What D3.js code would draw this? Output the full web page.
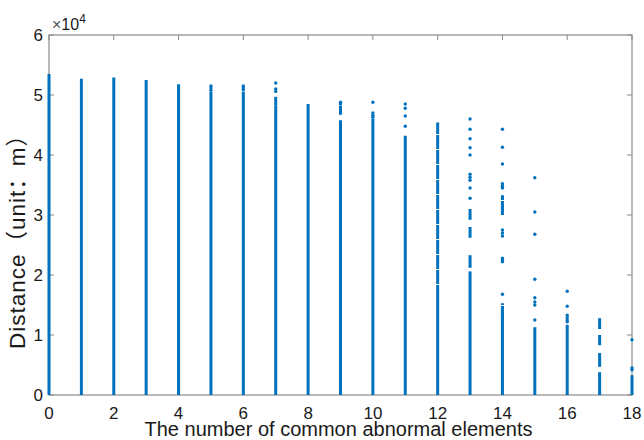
<!DOCTYPE html>
<html lang="en">
<head>
<meta charset="utf-8">
<title>Distance vs common abnormal elements</title>
<script src="https://cdn.jsdelivr.net/npm/d3@7"></script>
<style>
  body { margin: 0; background: #fff; }
  svg text { font-family: "Liberation Sans", Arial, sans-serif; fill: #1a1a1a; }
  .cjk { font-family: "Noto Sans CJK SC", sans-serif; }
</style>
</head>
<body>
<script>
// number of common abnormal elements (x positions of the columns)
var counts = [0, 1, 2, 3, 4, 5, 6, 7, 8, 9, 10, 11, 12, 13, 14, 15, 16, 17, 18];
// top of the solid part of each column (m)
var solidTop = [53500, 52700, 52900, 52500, 51800, 50500, 50600, 48300, 48500, 45800,
                46000, 43200, 16000, 20600, 13800, 11300, 11700, 3800, 3300];
// dense but broken stretches: [count, from, to]
var denseRanges = [
  [12, 16000, 45400], [13, 29200, 31000], [13, 26200, 28000],
  [13, 21200, 23300], [14, 30000, 33300], [14, 12500, 15300], [17, 11000, 12800],
  [17, 8300, 10000], [17, 4700, 7000], [7, 48300, 49700], [9, 46700, 48200]
];
// single points above the columns: [count, distance]
var points = [
  [5, 51500], [5, 51200], [5, 50800],
  [6, 51500], [6, 51200], [6, 50900],
  [7, 52000], [7, 51000], [7, 50600],
  [9, 48800], [9, 48500],
  [10, 48800], [10, 47000], [10, 46600], [10, 46300],
  [11, 48500], [11, 47800], [11, 46500], [11, 44800],
  [13, 46000], [13, 44300], [13, 42700], [13, 41200], [13, 40000], [13, 36800],
  [13, 36300], [13, 35800], [13, 34500], [13, 32800],
  [14, 44300], [14, 41300], [14, 38500], [14, 35200], [14, 34800], [14, 34500],
  [14, 27500], [14, 27000], [14, 26500], [14, 22800], [14, 22500], [14, 22200], [14, 16800],
  [15, 36200], [15, 30500], [15, 26800], [15, 19300], [15, 16200], [15, 15500],
  [15, 15000], [15, 12500],
  [16, 17300], [16, 14800], [16, 13300], [16, 12900], [16, 12500], [16, 12200],
  [18, 9200], [18, 4500], [18, 4200]
];
var xTicks = [0, 2, 4, 6, 8, 10, 12, 14, 16, 18];
var yTicks = [0, 10000, 20000, 30000, 40000, 50000, 60000];

var w = 644, h = 440;
var pLeft = 49, pRight = 632, pTop = 35, pBottom = 395;
var blue = "#0072BD", axisCol = "#8a8a8a";

var svg = d3.select("body").append("svg")
    .attr("width", w)
    .attr("height", h);

var x = d3.scaleLinear().domain([0, 18]).range([pLeft, pRight]);
var y = d3.scaleLinear().domain([0, 60000]).range([pBottom, pTop]);

// box
svg.append("rect")
    .attr("x", pLeft).attr("y", pTop)
    .attr("width", pRight - pLeft).attr("height", pBottom - pTop)
    .attr("fill", "none").attr("stroke", axisCol).attr("stroke-width", 1.2);

// ticks (inward) on all four sides
var tl = 5;
svg.selectAll(".xt").data(xTicks).enter().append("line")
    .attr("x1", function(d) { return x(d); }).attr("x2", function(d) { return x(d); })
    .attr("y1", pBottom).attr("y2", pBottom - tl)
    .attr("stroke", axisCol);
svg.selectAll(".xt2").data(xTicks).enter().append("line")
    .attr("x1", function(d) { return x(d); }).attr("x2", function(d) { return x(d); })
    .attr("y1", pTop).attr("y2", pTop + tl)
    .attr("stroke", axisCol);
svg.selectAll(".yt").data(yTicks).enter().append("line")
    .attr("x1", pLeft).attr("x2", pLeft + tl)
    .attr("y1", function(d) { return y(d); }).attr("y2", function(d) { return y(d); })
    .attr("stroke", axisCol);
svg.selectAll(".yt2").data(yTicks).enter().append("line")
    .attr("x1", pRight).attr("x2", pRight - tl)
    .attr("y1", function(d) { return y(d); }).attr("y2", function(d) { return y(d); })
    .attr("stroke", axisCol);

// tick labels
svg.selectAll(".xl").data(xTicks).enter().append("text")
    .attr("x", function(d) { return x(d); })
    .attr("y", pBottom + 24)
    .attr("text-anchor", "middle")
    .attr("font-size", 17)
    .text(function(d) { return d; });
svg.selectAll(".yl").data(yTicks).enter().append("text")
    .attr("x", pLeft - 6)
    .attr("y", function(d) { return y(d) + 6; })
    .attr("text-anchor", "end")
    .attr("font-size", 17)
    .text(function(d) { return d / 10000; });

// exponent
var ex = svg.append("text").attr("x", pLeft + 3).attr("y", pTop - 5).attr("font-size", 16);
ex.append("tspan").attr("fill", "#555").text("\u00d7");
ex.append("tspan").text("10");
ex.append("tspan").attr("dy", -7).attr("font-size", 12).text("4");

// axis labels
svg.append("text")
    .attr("x", (pLeft + pRight) / 2 - 2)
    .attr("y", 436)
    .attr("text-anchor", "middle")
    .attr("font-size", 20)
    .text("The number of common abnormal elements");
var yl = svg.append("text")
    .attr("transform", "translate(25,349) rotate(-90)")
    .attr("text-anchor", "start")
    .attr("font-size", 22.5)
    .attr("letter-spacing", 1);
yl.append("tspan").text("Distance");
yl.append("tspan").attr("class", "cjk").text("\uff08");
yl.append("tspan").text("unit");
yl.append("tspan").attr("class", "cjk").text("\uff1a");
yl.append("tspan").text("m");
yl.append("tspan").attr("class", "cjk").text("\uff09");

// marks
svg.selectAll(".solid").data(counts).enter().append("line")
    .attr("x1", function(d) { return x(d); }).attr("x2", function(d) { return x(d); })
    .attr("y1", y(0)).attr("y2", function(d, i) { return y(solidTop[i]); })
    .attr("stroke", blue).attr("stroke-width", 3);

svg.selectAll(".dense").data(denseRanges).enter().append("line")
    .attr("x1", function(d) { return x(d[0]); }).attr("x2", function(d) { return x(d[0]); })
    .attr("y1", function(d) { return y(d[1]); }).attr("y2", function(d) { return y(d[2]); })
    .attr("stroke", blue).attr("stroke-width", 3)
    .attr("stroke-dasharray", "14,1");

svg.selectAll(".pt").data(points).enter().append("circle")
    .attr("cx", function(d) { return x(d[0]); })
    .attr("cy", function(d) { return y(d[1]); })
    .attr("r", 1.7)
    .attr("fill", blue);
</script>
</body>
</html>
